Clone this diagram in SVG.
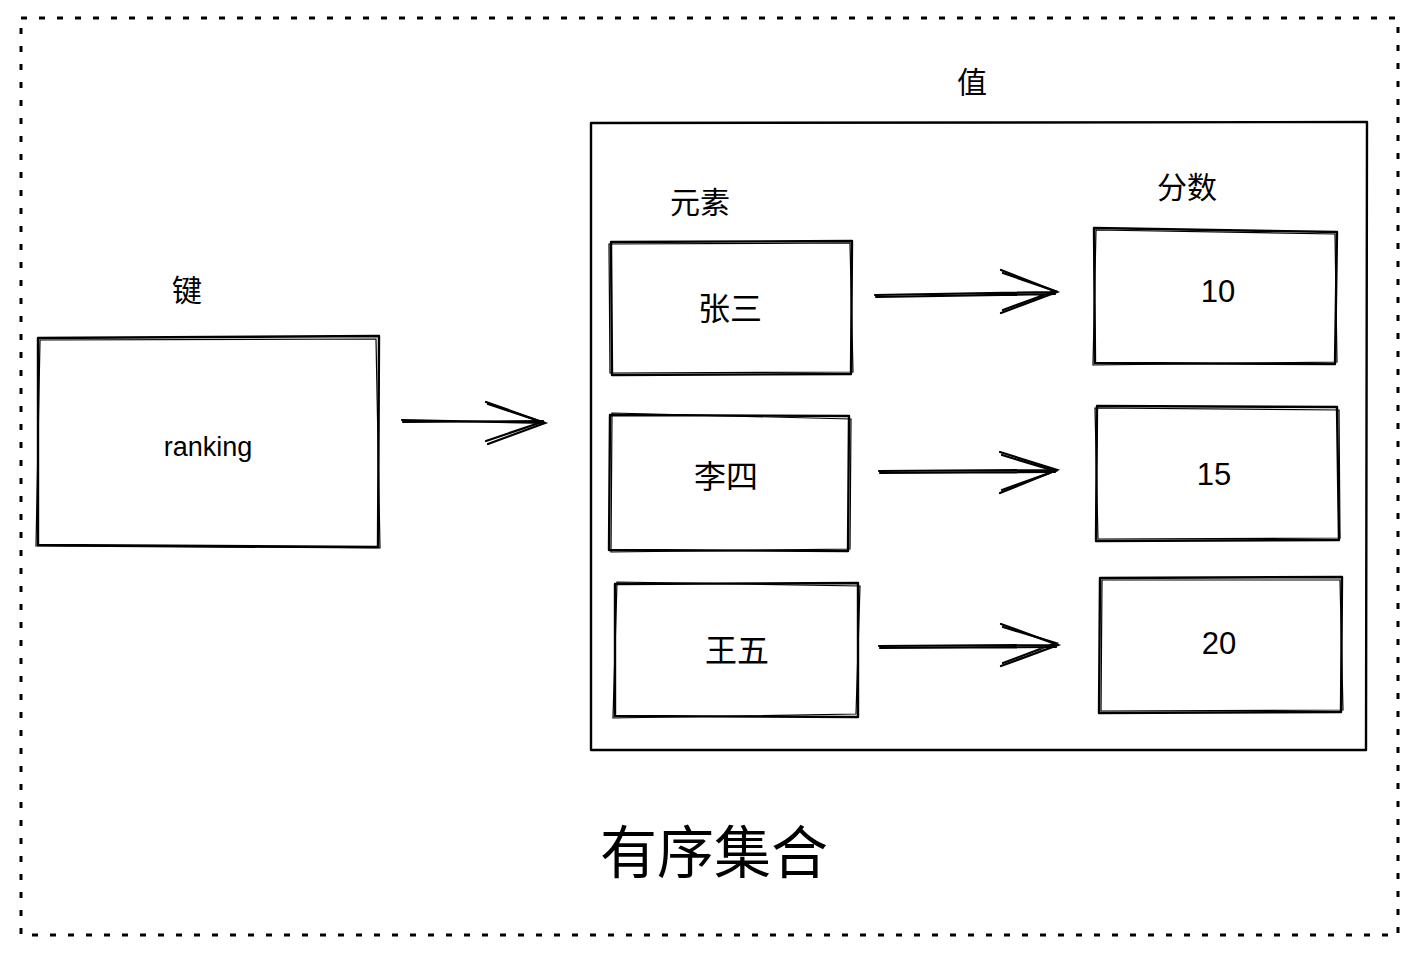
<svg xmlns="http://www.w3.org/2000/svg" width="1419" height="955" viewBox="0 0 1419 955">
<style>
.bx{fill:none;stroke:#000;stroke-width:2.4;stroke-linecap:round;stroke-linejoin:round}
.bx2{fill:none;stroke:#000;stroke-width:1.2;stroke-linecap:round}
.ar{fill:none;stroke:#000;stroke-width:2.2;stroke-linecap:round}
.t{font-family:"Liberation Sans","Noto Sans CJK SC",sans-serif;fill:#000;text-anchor:middle;dominant-baseline:central}
</style>
<rect width="1419" height="955" fill="#fff"/>
<g id="frame">
<rect x="21" y="18" width="1377" height="917" fill="none" stroke="#000" stroke-width="3" stroke-dasharray="6 12"/>
</g>
<g id="key-label"><text class="t" x="187" y="290" font-size="30">键</text></g>
<g id="value-label"><text class="t" x="972" y="82" font-size="30">值</text></g>
<g id="title"><text class="t" x="714" y="853" font-size="57">有序集合</text></g>
<g id="node-ranking">
<path class="bx" d="M38 338 L379 336 L378 547 L38 545 Z"/>
<path class="bx2" d="M40 340 L376 339 L380 548 L36 546 Z"/>
<text class="t" x="208" y="447" font-size="27">ranking</text>
</g>
<g id="node-value">
<path class="bx" stroke-width="2.8" d="M591 123 L1367 122 L1366 750 L591 750 Z"/>
</g>
<g id="label-elem"><text class="t" x="700" y="202" font-size="30">元素</text></g>
<g id="label-score"><text class="t" x="1187" y="187" font-size="30">分数</text></g>
<g id="node-zhangsan">
<path class="bx" d="M611 242 L852 241 L851 374 L612 375 Z"/>
<path class="bx2" d="M609 244 L850 243 L853 372 L610 373 Z"/>
<text class="t" x="730" y="309" font-size="32">张三</text>
</g>
<g id="node-lisi">
<path class="bx" d="M610 415 L849 416 L848 551 L609 550 Z"/>
<path class="bx2" d="M612 413 L851 419 L850 549 L611 552 Z"/>
<text class="t" x="726" y="477" font-size="32">李四</text>
</g>
<g id="node-wangwu">
<path class="bx" d="M615 584 L858 583 L858 717 L615 716 Z"/>
<path class="bx2" d="M617 582 L860 586 L856 714 L613 718 Z"/>
<text class="t" x="737" y="651" font-size="32">王五</text>
</g>
<g id="node-10">
<path class="bx" d="M1094 228 L1337 232 L1335 364 L1095 363 Z"/>
<path class="bx2" d="M1096 230 L1335 234 L1337 362 L1093 365 Z"/>
<text class="t" x="1218" y="291" font-size="31">10</text>
</g>
<g id="node-15">
<path class="bx" d="M1097 406 L1337 407 L1339 540 L1096 541 Z"/>
<path class="bx2" d="M1095 408 L1339 410 L1340 538 L1098 539 Z"/>
<text class="t" x="1214" y="474" font-size="31">15</text>
</g>
<g id="node-20">
<path class="bx" d="M1100 578 L1342 577 L1341 712 L1099 713 Z"/>
<path class="bx2" d="M1102 580 L1340 580 L1343 710 L1101 711 Z"/>
<text class="t" x="1219" y="643" font-size="31">20</text>
</g>
<g id="connectors">
<path class="ar" d="M402 420 L545 423 M486 402 L545 423 L488 444"/>
<path class="ar" stroke-width="1.2" d="M403 422 L543 421 M488 404 L542 422 L486 441"/>
<path class="ar" d="M875 295 L1057 292 M1001 270 L1057 292 L1001 313"/>
<path class="ar" stroke-width="1.2" d="M876 297 L1055 294 M1003 273 L1055 291 L1003 310"/>
<path class="ar" d="M879 471 L1057 470 M1000 452 L1057 470 L1000 493"/>
<path class="ar" stroke-width="1.2" d="M880 473 L1055 472 M1002 455 L1055 471 L1002 490"/>
<path class="ar" d="M879 646 L1058 645 M1001 624 L1058 645 L1001 666"/>
<path class="ar" stroke-width="1.2" d="M880 648 L1056 647 M1003 627 L1056 643 L1003 663"/>
</g>
</svg>
